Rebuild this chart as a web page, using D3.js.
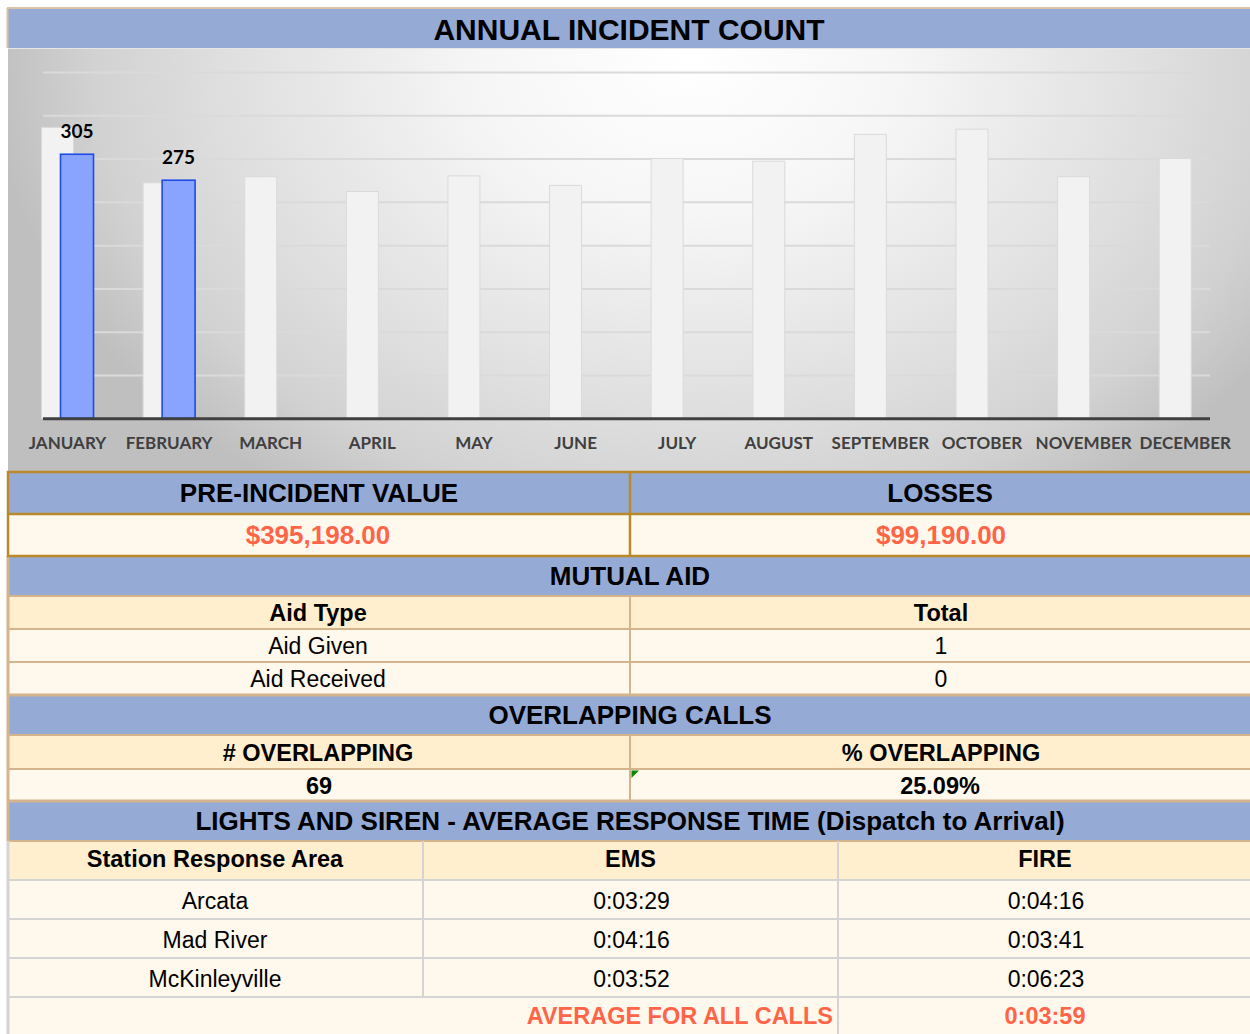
<!DOCTYPE html>
<html><head><meta charset="utf-8">
<script src="https://cdn.jsdelivr.net/npm/d3@7/dist/d3.min.js"></script>
<style>
html,body{margin:0;padding:0;background:#fff;overflow:hidden}
svg{display:block}
</style></head><body>
<script>
// ---------------- DATA ----------------
const chartTitle = "ANNUAL INCIDENT COUNT";
const months = ["JANUARY","FEBRUARY","MARCH","APRIL","MAY","JUNE","JULY","AUGUST","SEPTEMBER","OCTOBER","NOVEMBER","DECEMBER"];
const priorYearCounts = [336, 272, 279, 262, 280, 269, 300, 297, 328, 334, 279, 300];
const currentYearCounts = [305, 275];
const yTickValues = [0, 50, 100, 150, 200, 250, 300, 350, 400];

const summaryHeaders = ["PRE-INCIDENT VALUE", "LOSSES"];
const summaryValues = ["$395,198.00", "$99,190.00"];

const mutualAidTitle = "MUTUAL AID";
const aidColumns = ["Aid Type", "Total"];
const aidTypes = ["Aid Given", "Aid Received"];
const aidTotals = [1, 0];

const overlapTitle = "OVERLAPPING CALLS";
const overlapHeaders = ["# OVERLAPPING", "% OVERLAPPING"];
const overlapValues = ["69", "25.09%"];

const responseTitle = "LIGHTS AND SIREN - AVERAGE RESPONSE TIME (Dispatch to Arrival)";
const responseColumns = ["Station Response Area", "EMS", "FIRE"];
const stations = ["Arcata", "Mad River", "McKinleyville"];
const emsTimes = ["0:03:29", "0:04:16", "0:03:52"];
const fireTimes = ["0:04:16", "0:03:41", "0:06:23"];
const averageLabel = "AVERAGE FOR ALL CALLS";
const averageTime = "0:03:59";

// ---------------- STYLE ----------------
const W = 1250, H = 1034;
const C = {
  band: "#95abd6", head: "#ffefcf", cell: "#fff8ec",
  gold: "#b9892c", tan: "#d4b48c", gray: "#d4d4d4",
  red: "#fe6448", text: "#000"
};
const TF = "'Liberation Sans', Arial, Helvetica, sans-serif";
const CF = "Lato, 'Open Sans', sans-serif";

const svg = d3.select("body").append("svg").attr("width", W).attr("height", H);
const defs = svg.append("defs");

const bg = defs.append("radialGradient").attr("id", "bg")
  .attr("gradientUnits", "userSpaceOnUse")
  .attr("cx", 690).attr("cy", 60).attr("r", 700)
  .attr("gradientTransform", "translate(690,60) scale(1,0.75) translate(-690,-60)");
[[0, "#ffffff"], [0.3, "#f6f6f6"], [0.65, "#e0e0e0"], [0.85, "#d2d2d2"], [1, "#bfbfbf"]]
  .forEach(([o, c]) => bg.append("stop").attr("offset", o).attr("stop-color", c));

const gg = defs.append("linearGradient").attr("id", "grid")
  .attr("gradientUnits", "userSpaceOnUse").attr("x1", 0).attr("y1", 72).attr("x2", 0).attr("y2", 418);
[[0, "#dadada"], [0.25, "#c4c4c4"], [0.5, "#a0a0a0"], [1, "#8e8e8e"]]
  .forEach(([o, c]) => gg.append("stop").attr("offset", o).attr("stop-color", c));

function rect(x, y, w, h, fill) {
  return svg.append("rect").attr("x", x).attr("y", y).attr("width", w).attr("height", h).attr("fill", fill);
}
function line(x1, y1, x2, y2, stroke, sw) {
  return svg.append("line").attr("x1", x1).attr("y1", y1).attr("x2", x2).attr("y2", y2)
    .attr("stroke", stroke).attr("stroke-width", sw);
}
function text(x, cy, s, o = {}) {
  const size = o.size || 23;
  return svg.append("text").attr("x", x).attr("y", cy + 0.358 * size)
    .attr("text-anchor", o.anchor || "middle")
    .attr("font-family", o.family || TF).attr("font-size", size)
    .attr("font-weight", o.weight || "normal").attr("fill", o.fill || C.text)
    .text(s);
}

// ---------------- CHART ----------------
rect(8, 48, W - 8, 424, "url(#bg)");
rect(7, 8, W - 7, 40, C.band);
line(7, 8, W, 8, "#d9c3a0", 2);
line(7.5, 8, 7.5, 48, "#d9c3a0", 2);
line(8, 48.5, W, 48.5, "#e6e6e6", 1);
text(629, 29.5, chartTitle, { size: 30, weight: "bold" });

const x = d3.scaleBand().domain(months).range([16.7, 1236]).padding(0);
const y = d3.scaleLinear().domain([0, 400]).range([418.3, 72]);
const cx = m => x(m) + x.bandwidth() / 2;

const gridG = svg.append("g").attr("transform", "translate(43,0)")
  .call(d3.axisLeft(y).tickValues(yTickValues.filter(v => v > 0)).tickSize(-1167).tickFormat(""));
gridG.select(".domain").remove();
gridG.selectAll(".tick line").attr("stroke", "url(#grid)").attr("stroke-width", 2);

svg.append("g").selectAll("rect").data(months).join("rect")
  .attr("x", m => cx(m) - 26).attr("width", 32)
  .attr("y", (m, i) => y(priorYearCounts[i])).attr("height", (m, i) => y(0) - y(priorYearCounts[i]))
  .attr("fill", "#f2f2f2").attr("stroke", "#dadada").attr("stroke-width", 1);

const cur = months.slice(0, currentYearCounts.length);
svg.append("g").selectAll("rect").data(cur).join("rect")
  .attr("x", m => cx(m) - 7).attr("width", 33)
  .attr("y", (m, i) => y(currentYearCounts[i])).attr("height", (m, i) => y(0) - y(currentYearCounts[i]))
  .attr("fill", "#88a4ff").attr("stroke", "#1d4ce8").attr("stroke-width", 1.6);

svg.append("g").selectAll("text").data(cur).join("text")
  .attr("x", m => cx(m) + 9.5).attr("y", (m, i) => y(currentYearCounts[i]) - 16.5)
  .attr("text-anchor", "middle").attr("font-family", CF).attr("font-weight", "bold")
  .attr("font-size", 19).attr("fill", "#000")
  .text((m, i) => currentYearCounts[i]);

line(43, y(0) + 0.5, 1210, y(0) + 0.5, "#404040", 3);

const xa = svg.append("g").attr("transform", `translate(0,${y(0)})`)
  .call(d3.axisBottom(x).tickSize(0));
xa.select(".domain").remove();
xa.selectAll("text").attr("y", 31).attr("dy", 0)
  .attr("font-family", CF).attr("font-weight", "bold").attr("font-size", 17).attr("fill", "#404040");

// ---------------- TABLES ----------------
const L = 8, R = W, MID = 630;
// summary (gold block)
rect(L, 472, R - L, 42, C.band);
rect(L, 514, R - L, 42, C.cell);
summaryHeaders.forEach((h, i) => text(i ? 940 : 319, 493, h, { size: 26, weight: "bold" }));
summaryValues.forEach((v, i) => text(i ? 941 : 318, 535, v, { size: 26, weight: "bold", fill: C.red }));

// mutual aid
rect(L, 556, R - L, 40, C.band);
text(630, 576, mutualAidTitle, { size: 26, weight: "bold" });
rect(L, 596, R - L, 33, C.head);
aidColumns.forEach((h, i) => text(i ? 941 : 318, 613, h, { size: 23.5, weight: "bold" }));
aidTypes.forEach((t, i) => {
  const y0 = 629 + i * 33;
  rect(L, y0, R - L, 33, C.cell);
  text(318, y0 + 17, t);
  text(941, y0 + 17, aidTotals[i]);
});

// overlapping
rect(L, 695, R - L, 40, C.band);
text(630, 715, overlapTitle, { size: 26, weight: "bold" });
rect(L, 735, R - L, 34, C.head);
overlapHeaders.forEach((h, i) => text(i ? 941 : 318, 753, h, { size: 23.5, weight: "bold" }));
rect(L, 769, R - L, 32, C.cell);
overlapValues.forEach((v, i) => text(i ? 940 : 319, 785.5, v, { size: 23.5, weight: "bold" }));

// response time
rect(L, 801, R - L, 40, C.band);
text(630, 821, responseTitle, { size: 26, weight: "bold" });
rect(L, 841, R - L, 39, C.head);
const colX = [215, 630.5, 1045];
responseColumns.forEach((h, i) => text(colX[i], 859, h, { size: 23.5, weight: "bold" }));
stations.forEach((s, i) => {
  const y0 = 880 + i * 39;
  rect(L, y0, R - L, 39, C.cell);
  text(colX[0], y0 + 21, s);
  text(colX[1] + 1, y0 + 21, emsTimes[i]);
  text(colX[2] + 1, y0 + 21, fireTimes[i]);
});
rect(L, 997, R - L, 40, C.cell);
text(833, 1016, averageLabel, { size: 23.5, weight: "bold", fill: C.red, anchor: "end" });
text(colX[2], 1016, averageTime, { size: 23.5, weight: "bold", fill: C.red });

// borders
[596, 629, 662].forEach(v => line(L, v, R, v, C.tan, 2));
line(L, 695, R, 695, C.tan, 3);
[735, 769].forEach(v => line(L, v, R, v, C.tan, 2));
line(L, 801, R, 801, C.tan, 3);
line(L, 841, R, 841, C.tan, 2);
[880, 919, 958, 997].forEach(v => line(L, v, R, v, C.gray, 2));
line(MID, 596, MID, 695, C.tan, 2);
line(MID, 735, MID, 801, C.tan, 2);
line(423, 841, 423, 997, C.gray, 2);
line(838, 841, 838, H, C.gray, 2);
line(8, 556, 8, 841, C.tan, 3);
line(8, 841, 8, H, C.gray, 3);
// gold block border
svg.append("rect").attr("x", 8).attr("y", 472).attr("width", R).attr("height", 84)
  .attr("fill", "none").attr("stroke", C.gold).attr("stroke-width", 2.5);
line(L, 514, R, 514, C.gold, 2.5);
line(MID, 472, MID, 556, C.gold, 2.5);
// green comment marker
svg.append("path").attr("d", "M631.5,770.5 H639 L631.5,778 Z").attr("fill", "#078a07");
</script>
</body></html>
